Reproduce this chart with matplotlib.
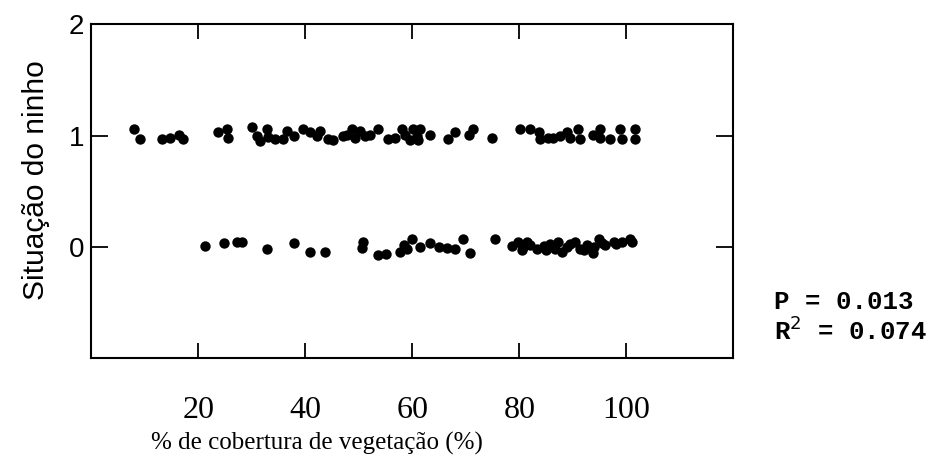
import matplotlib
matplotlib.use("Agg")
import matplotlib.pyplot as plt

# nests with situation 1 (x = vegetation cover %, y = jittered situation)
x_sit1 = [7.9, 9.1, 13.2, 14.7, 16.3, 17.2,
          23.7, 25.3, 25.6,
          30.0, 31.0, 31.5, 32.8, 33.0, 34.3, 35.9, 36.5, 37.8, 39.6, 40.9, 42.1, 42.7, 44.3, 45.2, 47.1,
          47.8, 48.7, 49.3, 50.2, 51.2, 52.1, 53.6, 55.5, 56.8, 58.0, 58.6, 59.6, 60.2, 60.8, 61.4, 61.1,
          63.3, 66.7, 68.0, 70.5, 71.4, 74.8,
          80.1, 82.0, 83.6, 83.8, 85.4, 86.3, 87.6, 88.8, 89.4, 91.0, 91.3, 93.8, 95.1, 95.1, 97.0,
          98.8, 99.1, 101.6, 101.6]
y_sit1 = [1.06, 0.97, 0.97, 0.98, 1.01, 0.97,
          1.03, 1.06, 0.98,
          1.08, 1.00, 0.95, 1.06, 0.99, 0.97, 0.97, 1.04, 1.00, 1.06, 1.03, 1.00, 1.04, 0.97, 0.96, 1.00,
          1.01, 1.06, 0.98, 1.04, 1.00, 1.01, 1.06, 0.97, 0.98, 1.06, 1.01, 0.96, 1.06, 1.00, 1.06, 0.96,
          1.01, 0.97, 1.03, 1.01, 1.06, 0.98,
          1.06, 1.06, 1.03, 0.97, 0.98, 0.98, 1.00, 1.03, 0.98, 1.06, 0.97, 1.01, 1.06, 0.98, 0.97,
          1.06, 0.97, 1.06, 0.97]

# nests with situation 0
x_sit0 = [21.3, 24.7, 27.2, 28.1, 32.8, 37.8, 40.9, 43.7, 50.8, 50.5, 53.6, 55.1, 57.7, 58.4, 59.0,
          59.9, 61.4, 63.3, 65.0, 66.5, 68.0, 69.5, 70.8, 75.5, 78.6, 79.8, 80.5, 80.7, 81.5, 82.0,
          83.2, 84.5, 85.0, 85.7, 86.6, 87.3, 88.0, 88.9, 89.5, 90.4, 91.3, 92.0, 92.6, 93.8, 94.0,
          94.8, 95.5, 96.0, 97.6, 98.0, 99.1, 100.7, 101.0]
y_sit0 = [0.01, 0.04, 0.05, 0.05, -0.02, 0.04, -0.04, -0.04, 0.05, -0.01, -0.07, -0.06, -0.04, 0.02, -0.02,
          0.07, 0.00, 0.04, 0.00, -0.01, -0.02, 0.07, -0.05, 0.07, 0.01, 0.05, -0.03, 0.00, 0.05, 0.02,
          -0.02, 0.01, -0.03, 0.03, -0.02, 0.05, -0.04, 0.00, 0.03, 0.05, -0.02, -0.03, 0.02, -0.05, 0.00,
          0.07, 0.04, 0.02, 0.05, 0.03, 0.05, 0.07, 0.05]

x_ticks = [20, 40, 60, 80, 100]
y_ticks = [0, 1, 2]

fig = plt.figure(figsize=(9.32, 4.59), dpi=100)
ax = fig.add_axes([0.098, 0.219, 0.689, 0.728])

ax.scatter(x_sit1, y_sit1, s=56, color="black", linewidths=0, zorder=3)
ax.scatter(x_sit0, y_sit0, s=56, color="black", linewidths=0, zorder=3)

ax.set_xlim(0, 120)
ax.set_ylim(-1, 2)
for sp in ax.spines.values():
    sp.set_linewidth(1.5)

ax.set_xticks(x_ticks)
ax.set_xticklabels([str(t) for t in x_ticks], fontfamily="Liberation Serif", fontsize=23)
ax.set_yticks(y_ticks)
ax.set_yticklabels([str(t) for t in y_ticks], fontfamily="Liberation Sans", fontsize=20)
ax.tick_params(axis="x", direction="in", length=11, width=1.3, top=True, pad=27)
ax.tick_params(axis="y", direction="in", length=12, width=1.3, right=True, pad=5)

ax.set_ylabel("Situação do ninho", fontfamily="Liberation Sans", fontsize=21.5)
ax.yaxis.set_label_coords(-0.064, 0.535)
ax.set_xlabel("% de cobertura de vegetação (%)", fontfamily="Liberation Serif", fontsize=18)
ax.xaxis.set_label_coords(0.352, -0.255)
ax.xaxis.label.set_va("center")

fig.text(0.831, 0.343, "P = 0.013", family="Liberation Mono", weight="bold", fontsize=18.5, va="center")
fig.text(0.831, 0.279, "R$^2$ = 0.074", family="Liberation Mono", weight="bold", fontsize=18.5, va="center")

fig.savefig("out.png", dpi=100)
